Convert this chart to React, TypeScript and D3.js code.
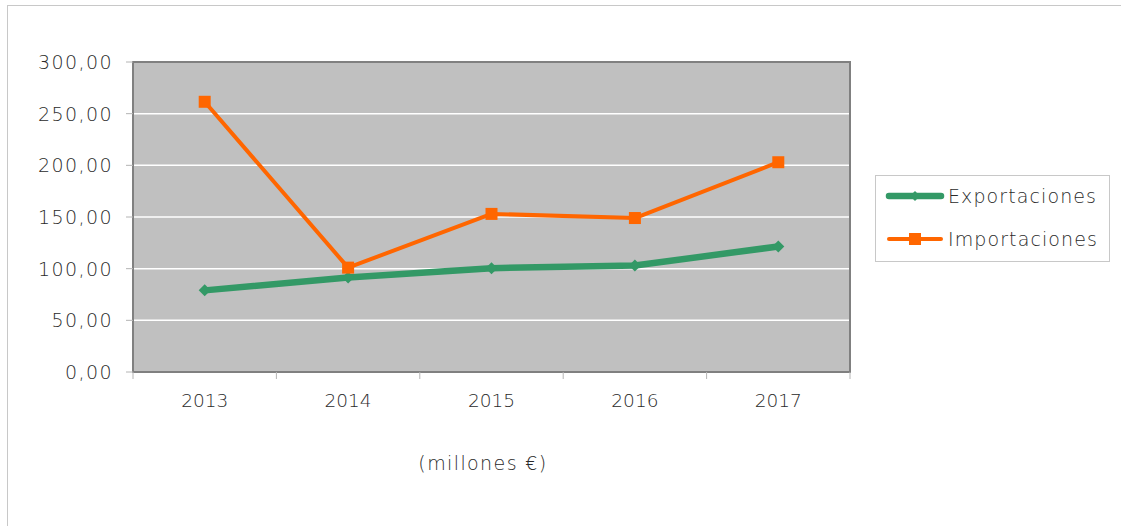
import React from 'react';
import * as d3 from 'd3';

const years = ['2013', '2014', '2015', '2016', '2017'];
const exportaciones = [79, 91.5, 100.5, 103, 121.5];
const importaciones = [261.5, 101, 153, 149, 203];
const yTickValues = [0, 50, 100, 150, 200, 250, 300];

const W = 1121;
const H = 526;
const plot = { left: 133, right: 850, top: 62, bottom: 372 };
const font = '"DejaVu Sans", sans-serif';
const textColor = '#2a2a2a';

const GREEN = '#339966';
const ORANGE = '#ff6600';

const fmt = (v: number) => v.toFixed(2).replace('.', ',');

export default function App() {
  const x = d3.scaleBand<string>().domain(years).range([plot.left, plot.right]);
  const y = d3.scaleLinear().domain([0, 300]).range([plot.bottom, plot.top]);
  const cx = (d: string) => (x(d) ?? 0) + x.bandwidth() / 2;

  const line = d3
    .line<number>()
    .x((_, i) => cx(years[i]))
    .y((v) => y(v));

  const bounds = [...years.map((d) => x(d) ?? 0), plot.right];

  const diamond = (px: number, py: number, r: number) =>
    `M${px},${py - r}L${px + r},${py}L${px},${py + r}L${px - r},${py}Z`;

  const label = { fontFamily: font, fontWeight: 300, fill: textColor };

  return (
    <svg
      width={W}
      height={H}
      style={{ position: 'absolute', left: 0, top: 0, background: '#fff' }}
    >
      {/* chart frame */}
      <rect x={7.5} y={5.5} width={W + 10} height={H + 10} fill="#fff" stroke="#c8c8c8" strokeWidth={1} />

      {/* plot area */}
      <rect x={plot.left} y={plot.top} width={plot.right - plot.left} height={plot.bottom - plot.top} fill="#c0c0c0" />

      {/* grid lines */}
      {yTickValues
        .filter((v) => v > 0 && v < 300)
        .map((v) => (
          <line key={`g-${v}`} x1={plot.left} x2={plot.right} y1={y(v)} y2={y(v)} stroke="#ffffff" strokeWidth={1.5} />
        ))}

      {/* plot border */}
      <rect
        x={plot.left}
        y={plot.top}
        width={plot.right - plot.left}
        height={plot.bottom - plot.top}
        fill="none"
        stroke="#808080"
        strokeWidth={2}
      />

      {/* y ticks + labels */}
      {yTickValues.map((v) => (
        <g key={`y-${v}`}>
          <line x1={126} x2={plot.left} y1={y(v)} y2={y(v)} stroke="#b4b4b4" strokeWidth={1} />
          <text x={113} y={y(v)} dy="0.36em" textAnchor="end" fontSize={19} letterSpacing={1.4} {...label}>
            {fmt(v)}
          </text>
        </g>
      ))}

      {/* x ticks */}
      {bounds.map((b, i) => (
        <line key={`xt-${i}`} x1={b} x2={b} y1={plot.bottom} y2={plot.bottom + 7} stroke="#b4b4b4" strokeWidth={1} />
      ))}
      {years.map((d) => (
        <text key={`xl-${d}`} x={cx(d)} y={400} dy="0.36em" textAnchor="middle" fontSize={18.5} {...label}>
          {d}
        </text>
      ))}

      {/* axis title */}
      <text x={483} y={463} dy="0.36em" textAnchor="middle" fontSize={19} letterSpacing={1.4} {...label}>
        (millones €)
      </text>

      {/* series */}
      <path d={line(exportaciones) ?? ''} fill="none" stroke={GREEN} strokeWidth={6.5} strokeLinejoin="round" />
      {exportaciones.map((v, i) => (
        <path key={`e-${i}`} d={diamond(cx(years[i]), y(v), 6)} fill={GREEN} />
      ))}
      <path d={line(importaciones) ?? ''} fill="none" stroke={ORANGE} strokeWidth={4} strokeLinejoin="round" />
      {importaciones.map((v, i) => (
        <rect key={`i-${i}`} x={cx(years[i]) - 6} y={y(v) - 6} width={12} height={12} fill={ORANGE} />
      ))}

      {/* legend */}
      <rect x={875.5} y={175.5} width={234} height={86} fill="#fff" stroke="#c8c8c8" strokeWidth={1} />
      <g>
        <line x1={889} x2={941} y1={196} y2={196} stroke={GREEN} strokeWidth={6.5} strokeLinecap="round" />
        <path d={diamond(915, 196, 5)} fill={GREEN} />
        <text x={948} y={196} dy="0.36em" fontSize={19} letterSpacing={1.1} {...label}>
          Exportaciones
        </text>
      </g>
      <g>
        <line x1={889} x2={941} y1={239} y2={239} stroke={ORANGE} strokeWidth={4} strokeLinecap="round" />
        <rect x={909} y={233} width={12} height={12} fill={ORANGE} />
        <text x={948} y={239} dy="0.36em" fontSize={19} letterSpacing={1.1} {...label}>
          Importaciones
        </text>
      </g>
    </svg>
  );
}
